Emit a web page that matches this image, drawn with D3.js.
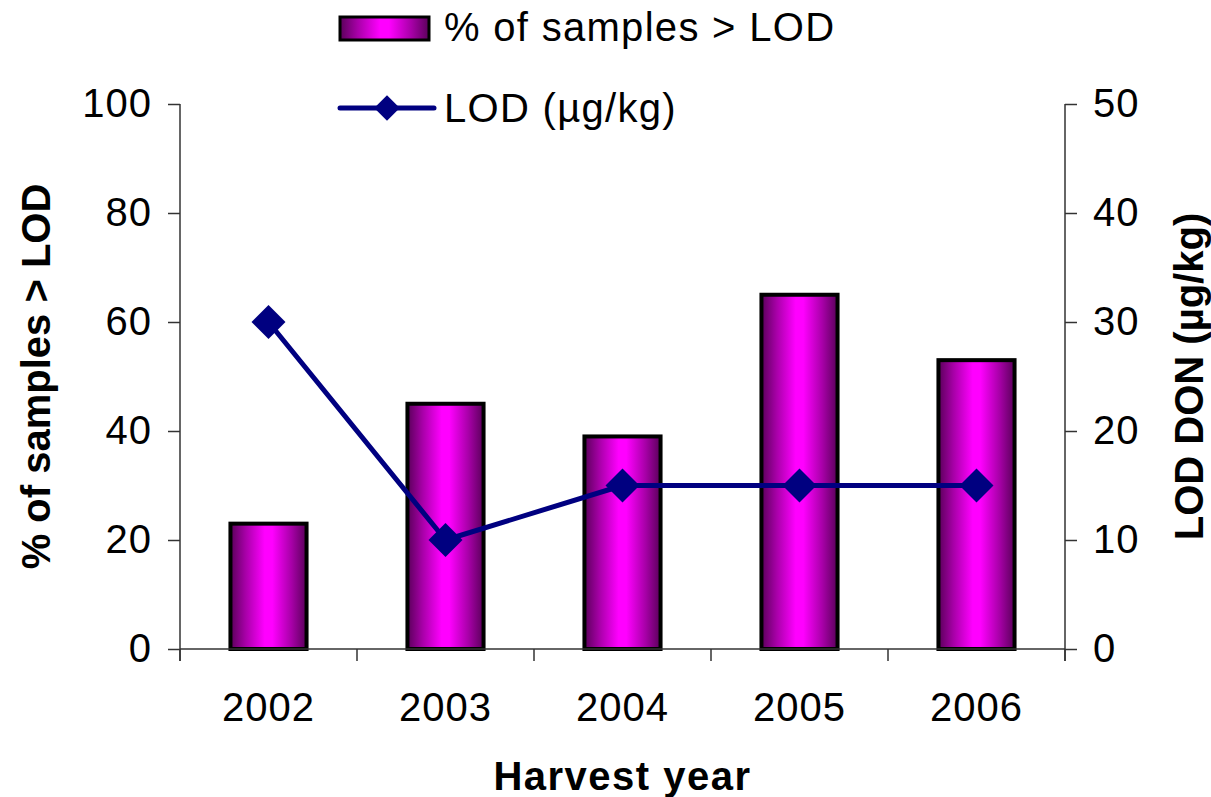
<!DOCTYPE html>
<html>
<head>
<meta charset="utf-8">
<script src="https://cdn.jsdelivr.net/npm/d3@7"></script>
<style>
  html, body { margin: 0; padding: 0; background: #fff; }
  svg { display: block; }
  text { font-family: "Liberation Sans", Arial, sans-serif; fill: #000; }
</style>
</head>
<body>
<svg id="chart" width="1211" height="797"></svg>
<script>
// Harvest years and the two series
const years = ["2002", "2003", "2004", "2005", "2006"];
const pctAboveLOD = [23, 45, 39, 65, 53];      // % of samples > LOD (left axis)
const lodValues = [30, 10, 15, 15, 15];         // LOD in µg/kg (right axis)
const leftTicks = [0, 20, 40, 60, 80, 100];
const rightTicks = [0, 10, 20, 30, 40, 50];

const svg = d3.select("#chart");
const plot = { left: 180, right: 1065, top: 104, bottom: 649 };

const x = d3.scaleBand()
  .domain(years)
  .range([plot.left, plot.right])
  .paddingInner(0.57)
  .paddingOuter(0.285);

const yLeft = d3.scaleLinear().domain([0, 100]).range([plot.bottom, plot.top]);
const yRight = d3.scaleLinear().domain([0, 50]).range([plot.bottom, plot.top]);

// Horizontal shading for the bars: dark purple edges, bright magenta centre
const defs = svg.append("defs");
const grad = defs.append("linearGradient")
  .attr("id", "barShade")
  .attr("x1", "0%").attr("x2", "100%").attr("y1", "0%").attr("y2", "0%");
[[0, "#5a005a"], [0.2, "#a800a8"], [0.45, "#ff00ff"], [0.55, "#ff00ff"], [0.8, "#a800a8"], [1, "#5a005a"]]
  .forEach(([o, c]) => grad.append("stop").attr("offset", o).attr("stop-color", c));

// Bars
svg.append("g").selectAll("rect")
  .data(years.map((d, i) => ({ year: d, v: pctAboveLOD[i] })))
  .join("rect")
  .attr("x", d => x(d.year))
  .attr("y", d => yLeft(d.v))
  .attr("width", x.bandwidth())
  .attr("height", d => yLeft(0) - yLeft(d.v))
  .attr("fill", "url(#barShade)")
  .attr("stroke", "#000")
  .attr("stroke-width", 4);

// Axes
const axisColor = "#333";
const fontSize = 40;
const spacing = "1px";

const leftAxis = svg.append("g")
  .attr("transform", `translate(${plot.left},0)`)
  .call(d3.axisLeft(yLeft).tickValues(leftTicks).tickSize(12).tickPadding(16));

const rightAxis = svg.append("g")
  .attr("transform", `translate(${plot.right},0)`)
  .call(d3.axisRight(yRight).tickValues(rightTicks).tickSize(12).tickPadding(16));

[leftAxis, rightAxis].forEach(g => {
  g.select(".domain").remove();
  g.selectAll(".tick line").attr("stroke", axisColor).attr("stroke-width", 1.5);
  g.selectAll(".tick text")
    .style("font-size", fontSize + "px")
    .style("letter-spacing", spacing)
    .attr("font-family", "Liberation Sans, Arial, sans-serif");
  // vertical axis line, running down to the bottom tick length
  g.append("line").attr("x1", 0).attr("x2", 0)
    .attr("y1", plot.top).attr("y2", plot.bottom + 12)
    .attr("stroke", axisColor).attr("stroke-width", 1.5);
});

// Bottom axis: baseline, tick marks at category boundaries, year labels centred
const bottom = svg.append("g");
bottom.append("line")
  .attr("x1", plot.left).attr("x2", plot.right)
  .attr("y1", yLeft(0)).attr("y2", yLeft(0))
  .attr("stroke", axisColor).attr("stroke-width", 1.5);
const boundaries = d3.range(years.length + 1).map(i => plot.left + i * x.step());
bottom.selectAll("line.tick")
  .data(boundaries)
  .join("line")
  .attr("class", "tick")
  .attr("x1", d => d).attr("x2", d => d)
  .attr("y1", yLeft(0)).attr("y2", yLeft(0) + 12)
  .attr("stroke", axisColor).attr("stroke-width", 1.5);
bottom.selectAll("text")
  .data(years)
  .join("text")
  .attr("x", d => x(d) + x.bandwidth() / 2)
  .attr("y", 707)
  .attr("dy", "0.35em")
  .attr("text-anchor", "middle")
  .style("font-size", fontSize + "px")
  .style("letter-spacing", spacing)
  .text(d => d);

// LOD line with diamond markers (right axis)
const navy = "#000080";
const pts = years.map((d, i) => [x(d) + x.bandwidth() / 2, yRight(lodValues[i])]);
svg.append("path")
  .datum(pts)
  .attr("d", d3.line())
  .attr("fill", "none")
  .attr("stroke", navy)
  .attr("stroke-width", 5)
  .attr("stroke-linejoin", "round");
const diamond = d3.symbol().type(d3.symbolSquare).size(24 * 24);
svg.append("g").selectAll("path")
  .data(pts)
  .join("path")
  .attr("d", diamond)
  .attr("transform", d => `translate(${d[0]},${d[1]}) rotate(45)`)
  .attr("fill", navy);

// Axis titles
svg.append("text")
  .attr("x", (plot.left + plot.right) / 2)
  .attr("y", 776)
  .attr("dy", "0.35em")
  .attr("text-anchor", "middle")
  .style("font-size", "40px").style("font-weight", "bold")
  .style("letter-spacing", "1.5px")
  .text("Harvest year");

svg.append("text")
  .attr("transform", `translate(36,${(plot.top + plot.bottom) / 2}) rotate(-90)`)
  .attr("text-anchor", "middle")
  .attr("dy", "0.35em")
  .style("font-size", "40px").style("font-weight", "bold")
  .text("% of samples > LOD");

svg.append("text")
  .attr("transform", `translate(1189,${(plot.top + plot.bottom) / 2}) rotate(-90)`)
  .attr("text-anchor", "middle")
  .attr("dy", "0.35em")
  .style("font-size", "40px").style("font-weight", "bold")
  .text("LOD DON (µg/kg)");

// Legend
const legend = svg.append("g");
legend.append("rect")
  .attr("x", 340).attr("y", 17).attr("width", 89).attr("height", 23)
  .attr("fill", "url(#barShade)").attr("stroke", "#000").attr("stroke-width", 3);
legend.append("text")
  .attr("x", 444).attr("y", 27).attr("dy", "0.35em")
  .style("font-size", fontSize + "px")
  .style("letter-spacing", "1.3px")
  .text("% of samples > LOD");
legend.append("line")
  .attr("x1", 340).attr("x2", 434).attr("y1", 108).attr("y2", 108)
  .attr("stroke", navy).attr("stroke-width", 5).attr("stroke-linecap", "round");
legend.append("path")
  .attr("d", d3.symbol().type(d3.symbolSquare).size(18 * 18))
  .attr("transform", "translate(387,108) rotate(45)")
  .attr("fill", navy);
legend.append("text")
  .attr("x", 444).attr("y", 108).attr("dy", "0.35em")
  .style("font-size", fontSize + "px")
  .style("letter-spacing", "1.3px")
  .text("LOD (µg/kg)");
</script>
</body>
</html>
